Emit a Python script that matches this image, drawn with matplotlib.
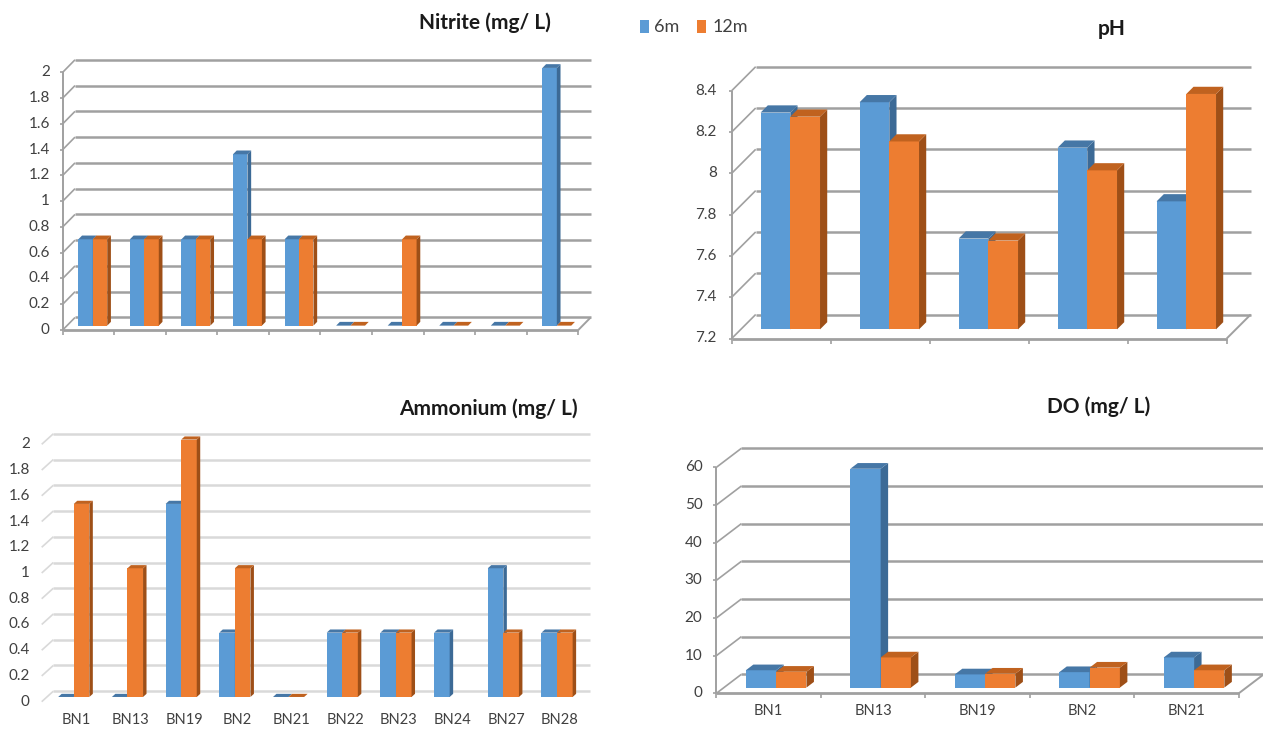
import matplotlib
matplotlib.use('Agg')
import matplotlib.pyplot as plt
from matplotlib.patches import Polygon, Rectangle
import numpy as np

plt.rcParams['font.family'] = ['Lato', 'DejaVu Sans']

W, H = 1263, 729

sites10 = ['BN1', 'BN13', 'BN19', 'BN2', 'BN21', 'BN22', 'BN23', 'BN24', 'BN27', 'BN28']
sites5 = ['BN1', 'BN13', 'BN19', 'BN2', 'BN21']
series = ['6m', '12m']

nitrite_6m = [0.67, 0.67, 0.67, 1.33, 0.67, 0, 0, 0, 0, 2.0]
nitrite_12m = [0.67, 0.67, 0.67, 0.67, 0.67, 0, 0.67, 0, 0, 0]
ph_6m = [8.25, 8.30, 7.64, 8.08, 7.82]
ph_12m = [8.23, 8.11, 7.63, 7.97, 8.34]
ammonium_6m = [0, 0, 1.5, 0.5, 0, 0.5, 0.5, 0.5, 1.0, 0.5]
ammonium_12m = [1.5, 1.0, 2.0, 1.0, 0, 0.5, 0.5, np.nan, 0.5, 0.5]
do_6m = [4.6, 58.1, 3.5, 4.1, 8.0]
do_12m = [4.2, 8.0, 3.7, 5.3, 4.6]

nitrite_ticks = [0, 0.2, 0.4, 0.6, 0.8, 1, 1.2, 1.4, 1.6, 1.8, 2]
ph_ticks = [7.2, 7.4, 7.6, 7.8, 8, 8.2, 8.4]
do_ticks = [0, 10, 20, 30, 40, 50, 60]

BLUE, BLUE_SIDE, BLUE_TOP = '#5B9BD5', '#3C6A96', '#4677A6'
ORANGE, ORANGE_SIDE, ORANGE_TOP = '#ED7D31', '#9E4F17', '#C0621F'
TXT = '#404040'

fig = plt.figure(figsize=(W / 100, H / 100), dpi=100)


def fmt(v):
    return ('%g' % v)


def panel(front, vlim, ticks, depth, vals6, vals12, cats=None, walls=True,
          f=0.35, w=0.28, bd=0.3, grid_col='#a0a0a0', lab_off=13, lab_shift=0):
    # front = pixel box of the front plane: left, right, y of vlim[0], y of vlim[1]
    x0, x1, y0, y1 = front
    n = len(vals6)
    ax = fig.add_axes([x0 / W, 1 - y0 / H, (x1 - x0) / W, (y0 - y1) / H])
    ax.set_xlim(0, n)
    ax.set_ylim(*vlim)
    ax.axis('off')
    px = n / (x1 - x0)
    py = (vlim[1] - vlim[0]) / (y0 - y1)
    dx, dy = depth[0] * px, depth[1] * py
    kw = dict(clip_on=False, solid_capstyle='butt')

    # back wall gridlines and left wall diagonals
    for t in ticks:
        ax.plot([dx, n + dx], [t + dy, t + dy], color=grid_col, lw=1.8, zorder=1, **kw)
        ax.plot([0, dx], [t, t + dy], color=grid_col, lw=1.2, zorder=1, **kw)
        ax.text(-lab_off * px, t, fmt(t), ha='right', va='center', fontsize=11, color=TXT)
        if walls:
            ax.plot([-3 * px, 0], [t, t], color=grid_col, lw=1.2, zorder=1, **kw)
    if walls:
        ax.plot([0, 0], [vlim[0], vlim[1]], color=grid_col, lw=1.4, zorder=1, **kw)
        ax.plot([0, n], [vlim[0], vlim[0]], color=grid_col, lw=2.0, zorder=1, **kw)
        ax.plot([n, n + dx], [vlim[0], vlim[0] + dy], color=grid_col, lw=1.4, zorder=1, **kw)
        for i in range(n + 1):
            ax.plot([i, i], [vlim[0], vlim[0] - 5 * py], color=grid_col, lw=1.2, zorder=1, **kw)

    # bars
    base = vlim[0] + f * dy
    z = 3
    for i in range(n):
        for k, (v, c_front, c_side, c_top) in enumerate(
                [(vals6[i], BLUE, BLUE_SIDE, BLUE_TOP), (vals12[i], ORANGE, ORANGE_SIDE, ORANGE_TOP)]):
            if np.isnan(v):
                continue
            left = i + 0.5 - w + k * w + f * dx
            top = v + f * dy
            ax.add_patch(Rectangle((left, base), w, top - base, facecolor=c_front,
                                   edgecolor='none', zorder=z, clip_on=False))
            ax.add_patch(Polygon([(left + w, base), (left + w + bd * dx, base + bd * dy),
                                  (left + w + bd * dx, top + bd * dy), (left + w, top)],
                                 closed=True, facecolor=c_side, edgecolor='none', zorder=z, clip_on=False))
            ax.add_patch(Polygon([(left, top), (left + bd * dx, top + bd * dy),
                                  (left + w + bd * dx, top + bd * dy), (left + w, top)],
                                 closed=True, facecolor=c_top, edgecolor='none', zorder=z, clip_on=False))
            z += 1

    if cats is not None:
        for i, c in enumerate(cats):
            ax.text(i + 0.5 + lab_shift * px, vlim[0] - 18 * py, c, ha='center', va='center',
                    fontsize=10.5, color=TXT)
    return ax


title_kw = dict(ha='center', va='center', fontsize=15, fontweight='bold', color='#1a1a1a')

# Nitrite
panel((62.7, 578.3, 330, 72.3), (0, 2), nitrite_ticks, (12.3, 12.5),
      nitrite_6m, nitrite_12m, f=0.35, w=0.28)
fig.text(484.6 / W, 1 - 22.7 / H, 'Nitrite (mg/ L)', **title_kw)

# pH
panel((731.7, 1226.7, 338.5, 90.7), (7.2, 8.4), ph_ticks, (24, 24),
      ph_6m, ph_12m, f=0.38, w=0.30, lab_off=15)
fig.text(1111.7 / W, 1 - 29.3 / H, 'pH', **title_kw)

# Ammonium
panel((41.7, 578.7, 701.7, 444.3), (0, 2), nitrite_ticks, (11.6, 10.5),
      ammonium_6m, ammonium_12m, cats=sites10, walls=False, f=0.45, w=0.29,
      grid_col='#d9d9d9', lab_off=12, lab_shift=8)
fig.text(488.7 / W, 1 - 408.3 / H, 'Ammonium (mg/ L)', **title_kw)

# DO
panel((716.4, 1238.8, 693.3, 467.3), (0, 60), do_ticks, (25, 19),
      do_6m, do_12m, cats=sites5, f=0.3, w=0.29, lab_off=14)
fig.text(1098.7 / W, 1 - 406.7 / H, 'DO (mg/ L)', **title_kw)

# legend
for (lx, tx, col, lab) in [(640, 654, BLUE, series[0]), (697, 713, ORANGE, series[1])]:
    fig.patches.append(Rectangle((lx / W, 1 - 33 / H), 9 / W, 13 / H, transform=fig.transFigure,
                                 facecolor=col, edgecolor='none'))
    fig.text(tx / W, 1 - 27 / H, lab, ha='left', va='center', fontsize=13, color=TXT)

fig.savefig('out.png', dpi=100)
